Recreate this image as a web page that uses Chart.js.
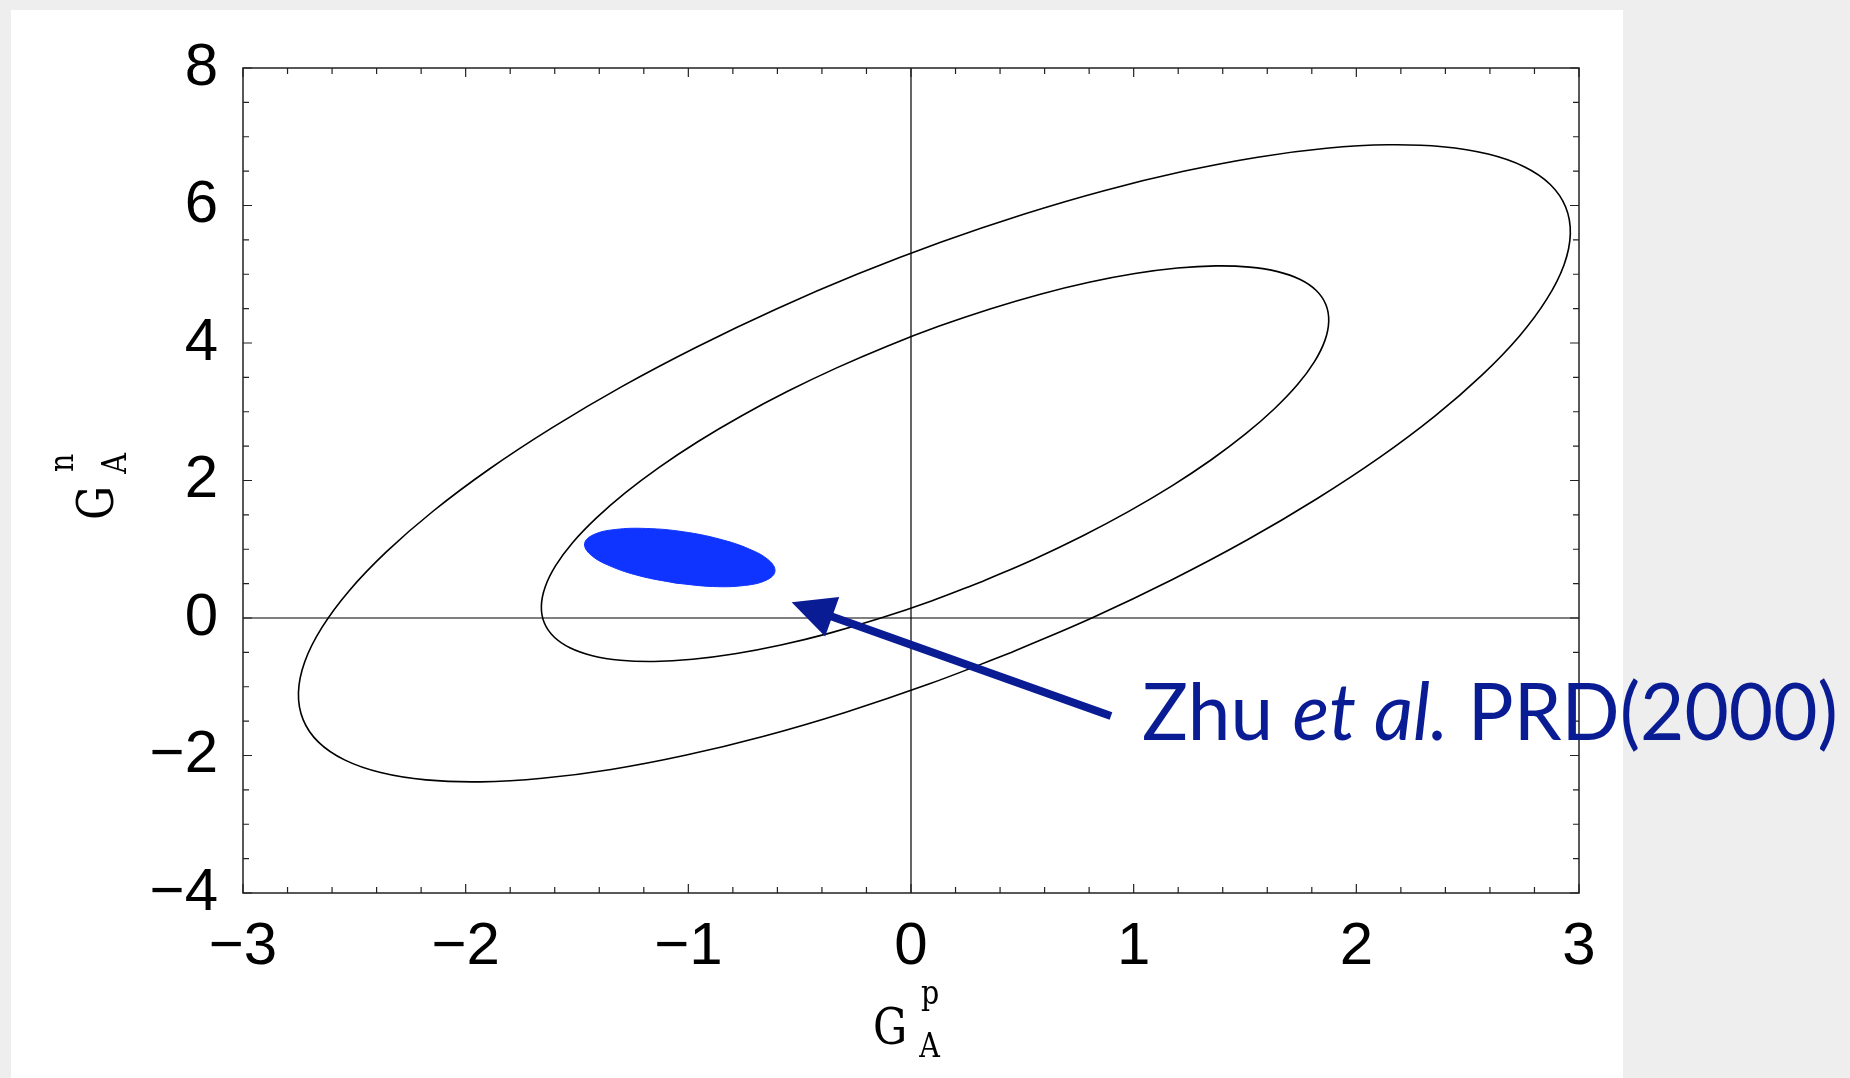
<!DOCTYPE html>
<html>
<head>
<meta charset="utf-8">
<script src="https://cdn.jsdelivr.net/npm/chart.js@4.4.1/dist/chart.umd.min.js"></script>
<style>
  html, body { margin: 0; padding: 0; width: 1850px; height: 1078px; overflow: hidden; background: #eeeeee; }
  #panel { position: absolute; left: 11px; top: 10px; width: 1612px; height: 1068px; background: #ffffff; }
  #chart { position: absolute; left: 0; top: 0; }
</style>
</head>
<body>
<div id="panel"></div>
<canvas id="chart" width="1850" height="1078"></canvas>
<script>
// Tick labels
const xTicks = [-3, -2, -1, 0, 1, 2, 3];
const yTicks = [-4, -2, 0, 2, 4, 6, 8];

// Outer contour (smoothed)
const outerX = [0.450, 0.077, -0.296, -0.661, -1.014, -1.347, -1.656, -1.934, -2.178, -2.382, -2.544, -2.661, -2.730, -2.751, -2.723, -2.646, -2.523, -2.354, -2.144, -1.895, -1.611, -1.299, -0.962, -0.607, -0.240, 0.133, 0.506, 0.871, 1.224, 1.557, 1.866, 2.144, 2.388, 2.592, 2.754, 2.871, 2.940, 2.961, 2.933, 2.856, 2.733, 2.564, 2.354, 2.105, 1.821, 1.509, 1.172, 0.817, 0.450];
const outerY = [-0.502, -0.965, -1.373, -1.719, -1.997, -2.203, -2.332, -2.383, -2.355, -2.248, -2.064, -1.806, -1.478, -1.087, -0.639, -0.141, 0.397, 0.968, 1.560, 2.164, 2.769, 3.366, 3.943, 4.492, 5.002, 5.465, 5.873, 6.219, 6.497, 6.703, 6.832, 6.883, 6.855, 6.748, 6.564, 6.306, 5.978, 5.587, 5.139, 4.641, 4.103, 3.533, 2.940, 2.336, 1.731, 1.134, 0.557, 0.008, -0.502];

// Inner contour
const innerX = [0.323, 0.092, -0.139, -0.365, -0.584, -0.790, -0.981, -1.154, -1.305, -1.431, -1.532, -1.604, -1.647, -1.660, -1.643, -1.596, -1.520, -1.415, -1.285, -1.131, -0.956, -0.762, -0.554, -0.334, -0.107, 0.124, 0.355, 0.581, 0.800, 1.006, 1.197, 1.370, 1.521, 1.647, 1.748, 1.820, 1.863, 1.876, 1.859, 1.812, 1.736, 1.631, 1.501, 1.347, 1.172, 0.978, 0.770, 0.550, 0.323];
const innerY = [0.535, 0.248, -0.005, -0.220, -0.393, -0.520, -0.600, -0.632, -0.614, -0.548, -0.433, -0.273, -0.070, 0.173, 0.452, 0.761, 1.095, 1.449, 1.817, 2.192, 2.568, 2.939, 3.297, 3.638, 3.954, 4.242, 4.495, 4.710, 4.883, 5.010, 5.090, 5.122, 5.104, 5.038, 4.923, 4.763, 4.559, 4.317, 4.038, 3.729, 3.395, 3.040, 2.673, 2.298, 1.922, 1.551, 1.193, 0.852, 0.535];

// Zhu et al. region (filled)
const blobX = [-1.056, -1.218, -1.353, -1.440, -1.466, -1.427, -1.329, -1.187, -1.022, -0.860, -0.725, -0.637, -0.611, -0.650, -0.748, -0.891, -1.056];
const blobY = [0.507, 0.612, 0.759, 0.924, 1.082, 1.210, 1.287, 1.302, 1.254, 1.148, 1.001, 0.836, 0.678, 0.550, 0.473, 0.458, 0.507];

// Annotation arrow (data coords) and its label
const arrowTip = { x: -0.536, y: 0.228 };
const arrowTail = { x: 0.898, y: -1.425 };
const noteParts = [['Zhu ', 'normal'], ['et al.', 'italic'], [' PRD(2000)', 'normal']];

const NAVY = '#0a1c94';
const BLUE = '#1034ff';

const toPoints = (xs, ys) => xs.map((x, i) => ({ x: x, y: ys[i] }));

const fmt = (v) => (v < 0 ? '\u2212' + Math.abs(v) : String(v));

// G with a stacked superscript / subscript, like the Mathematica labels
function drawG(ctx, sup) {
  ctx.save();
  ctx.scale(0.84, 1);
  ctx.font = '51px "DejaVu Serif"';
  ctx.fillText('G', 0, 0);
  ctx.font = '34px "DejaVu Serif"';
  ctx.fillText(sup, 57, -40);
  ctx.fillText('A', 55, 13);
  ctx.restore();
}

// frame, inward ticks, zero lines, arrow, axis titles, note
const decorations = {
  id: 'decorations',
  beforeDatasetsDraw(chart) {
    const { ctx, chartArea: a, scales: { x, y } } = chart;
    ctx.save();
    ctx.strokeStyle = '#000';
    ctx.lineWidth = 1.2;
    const x0 = x.getPixelForValue(0);
    const y0 = y.getPixelForValue(0);
    ctx.beginPath();
    ctx.moveTo(x0, a.top); ctx.lineTo(x0, a.bottom);
    ctx.moveTo(a.left, y0); ctx.lineTo(a.right, y0);
    ctx.stroke();
    ctx.restore();
  },
  afterDatasetsDraw(chart) {
    const { ctx, chartArea: a, scales: { x, y } } = chart;
    ctx.save();
    ctx.strokeStyle = '#222';
    ctx.lineWidth = 1.5;
    ctx.strokeRect(a.left, a.top, a.right - a.left, a.bottom - a.top);

    ctx.lineWidth = 1.2;
    ctx.beginPath();
    for (let i = 0; i <= 30; i++) {
      const px = x.getPixelForValue(-3 + i * 0.2);
      const len = i % 5 === 0 ? 9 : 6;
      ctx.moveTo(px, a.bottom); ctx.lineTo(px, a.bottom - len);
      ctx.moveTo(px, a.top); ctx.lineTo(px, a.top + len);
    }
    for (let i = 0; i <= 24; i++) {
      const py = y.getPixelForValue(-4 + i * 0.5);
      const len = i % 4 === 0 ? 9 : 6;
      ctx.moveTo(a.left, py); ctx.lineTo(a.left + len, py);
      ctx.moveTo(a.right, py); ctx.lineTo(a.right - len, py);
    }
    ctx.stroke();

    // arrow
    const tx = x.getPixelForValue(arrowTip.x), ty = y.getPixelForValue(arrowTip.y);
    const sx = x.getPixelForValue(arrowTail.x), sy = y.getPixelForValue(arrowTail.y);
    const dx = sx - tx, dy = sy - ty;
    const d = Math.hypot(dx, dy);
    const ux = dx / d, uy = dy / d;
    const headLen = 43, headHalf = 21;
    const bx = tx + ux * headLen, by = ty + uy * headLen;
    ctx.strokeStyle = NAVY;
    ctx.fillStyle = NAVY;
    ctx.lineWidth = 8;
    ctx.lineCap = 'butt';
    ctx.beginPath();
    ctx.moveTo(sx, sy); ctx.lineTo(bx - ux * 2, by - uy * 2);
    ctx.stroke();
    ctx.beginPath();
    ctx.moveTo(tx, ty);
    ctx.lineTo(bx - uy * headHalf, by + ux * headHalf);
    ctx.lineTo(bx + uy * headHalf, by - ux * headHalf);
    ctx.closePath();
    ctx.fill();

    // note text, squeezed a little to the width of the original (Gill Sans is narrower)
    ctx.textBaseline = 'alphabetic';
    ctx.textAlign = 'left';
    let total = 0;
    for (const [txt, style] of noteParts) {
      ctx.font = style + ' 79px Lato';
      total += ctx.measureText(txt).width;
    }
    ctx.save();
    ctx.translate(sx + 31, sy + 24);
    ctx.scale(Math.min(1, 696 / total), 1);
    let nx = 0;
    for (const [txt, style] of noteParts) {
      ctx.font = style + ' 79px Lato';
      ctx.fillText(txt, nx, 0);
      nx += ctx.measureText(txt).width;
    }
    ctx.restore();

    // axis titles
    ctx.fillStyle = '#000';
    const cx = (a.left + a.right) / 2;
    ctx.save();
    ctx.translate(cx - 38, a.bottom + 151);
    drawG(ctx, 'p');
    ctx.restore();

    const cy = (a.top + a.bottom) / 2;
    ctx.translate(a.left - 130, cy + 39.5);
    ctx.rotate(-Math.PI / 2);
    drawG(ctx, 'n');
    ctx.restore();
  }
};

const tickFont = { family: '"Liberation Sans", Arial, sans-serif', size: 60 };

new Chart(document.getElementById('chart'), {
  type: 'scatter',
  plugins: [decorations],
  data: {
    datasets: [
      {
        data: toPoints(blobX, blobY),
        showLine: true,
        borderColor: BLUE,
        borderWidth: 1,
        backgroundColor: BLUE,
        fill: 'shape',
        tension: 0.4,
        pointRadius: 0,
      },
      {
        data: toPoints(innerX, innerY),
        showLine: true,
        borderColor: '#000',
        borderWidth: 1.6,
        fill: false,
        tension: 0.4,
        pointRadius: 0,
      },
      {
        data: toPoints(outerX, outerY),
        showLine: true,
        borderColor: '#000',
        borderWidth: 1.6,
        fill: false,
        tension: 0.4,
        pointRadius: 0,
      },
    ],
  },
  options: {
    responsive: false,
    animation: false,
    layout: { padding: { left: 0, top: 68, right: 271, bottom: 0 } },
    plugins: {
      legend: { display: false },
      tooltip: { enabled: false },
    },
    scales: {
      x: {
        type: 'linear',
        min: -3,
        max: 3,
        afterBuildTicks: (axis) => { axis.ticks = xTicks.map((v) => ({ value: v })); },
        afterFit: (axis) => { axis.height = 185; },
        grid: { display: false, drawTicks: false },
        border: { display: false },
        ticks: { font: tickFont, color: '#000', padding: 18, callback: fmt, maxRotation: 0, autoSkip: false },
      },
      y: {
        type: 'linear',
        min: -4,
        max: 8,
        afterBuildTicks: (axis) => { axis.ticks = yTicks.map((v) => ({ value: v })); },
        afterFit: (axis) => { axis.width = 243; },
        grid: { display: false, drawTicks: false },
        border: { display: false },
        ticks: { font: tickFont, color: '#000', padding: 25, callback: fmt, autoSkip: false },
      },
    },
  },
});
</script>
</body>
</html>
